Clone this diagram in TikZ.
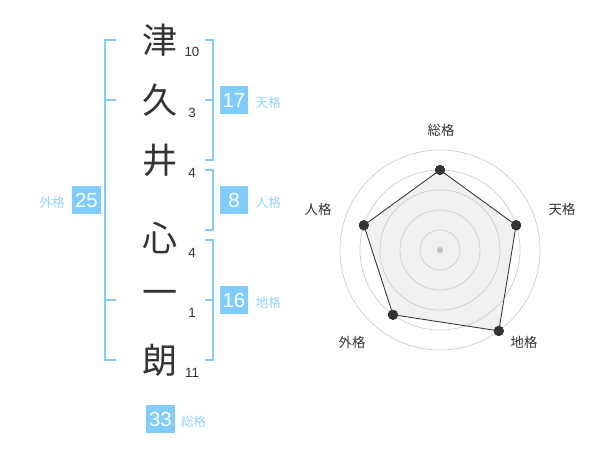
\documentclass[tikz,border=0pt]{standalone}
\usepackage{fontspec}
\setmainfont{Liberation Sans}
\newfontfamily\jp{Noto Sans CJK JP}
\usetikzlibrary{positioning,calc}
\definecolor{kakusky}{HTML}{80CCFF}
\definecolor{inkgray}{HTML}{333333}

\begin{document}
\begin{tikzpicture}
[x=0.025cm,y=-0.025cm,
kanji/.style = {font=\jp\fontsize{25}{25}\selectfont, text=inkgray, inner sep=0pt},
strokes/.style = {font=\fontsize{9.5}{10}\selectfont, text=inkgray, inner sep=0pt},
kakubox/.style = {fill=kakusky, text=white, minimum size=20pt, inner sep=0pt, font=\fontsize{14.5}{15}\selectfont},
kakulabel/.style = {text=kakusky!85, font=\jp\fontsize{9}{10}\selectfont, inner sep=0pt},
bracket/.style = {draw=kakusky, line width=1.4pt},
axislabel/.style = {text=inkgray, font=\jp\fontsize{9.5}{10}\selectfont, inner sep=0pt},
ring/.style = {draw=black!20, line width=0.5pt},
point/.style = {draw=inkgray, circle, fill=inkgray, inner sep=2.4pt},]
\useasboundingbox (0,0) rectangle (600,470);

% name and strokes
\node (K1) at (160,40) [kanji] {津};
\node (K2) at (160,100) [kanji] {久};
\node (K3) at (160,160) [kanji] {井};
\node (K4) at (160,238) [kanji] {心};
\node (K5) at (160,298) [kanji] {一};
\node (K6) at (160,360) [kanji] {朗};
\node (N1) at (192,52) [strokes] {10};
\node (N2) at (192,113) [strokes] {3};
\node (N3) at (192,173) [strokes] {4};
\node (N4) at (192,253) [strokes] {4};
\node (N5) at (192,313) [strokes] {1};
\node (N6) at (192,373) [strokes] {11};

% brackets
\draw[bracket] (116,40) -- (105,40) -- (105,360) -- (116,360);
\draw[bracket] (105,100) -- (116,100);
\draw[bracket] (105,300) -- (116,300);
\draw[bracket] (205,40) -- (213,40) -- (213,160) -- (205,160);
\draw[bracket] (205,100) -- (213,100);
\draw[bracket] (205,170) -- (213,170) -- (213,230) -- (205,230);
\draw[bracket] (205,240) -- (213,240) -- (213,360) -- (205,360);
\draw[bracket] (205,300) -- (213,300);

% scores
\node (ten) at (234,100) [kakubox] {17};
\node (jin) at (234,200) [kakubox] {8};
\node (chi) at (234,300) [kakubox] {16};
\node (gai) at (86.5,200) [kakubox] {25};
\node (sou) at (160.5,419) [kakubox] {33};
\node [kakulabel, base right=5pt of ten] {天格};
\node [kakulabel, base right=5pt of jin] {人格};
\node [kakulabel, base right=5pt of chi] {地格};
\node [kakulabel, base left=5pt of gai] {外格};
\node [kakulabel, base right=4pt of sou] {総格};

% radar
\begin{scope}[shift={(440,250)}, yscale=-1]
\node (RS) at (90:80) [point] {};
\node (RT) at (18:80) [point] {};
\node (RC) at (-54:100) [point] {};
\node (RG) at (-126:80) [point] {};
\node (RJ) at (162:80) [point] {};
\fill[black!6] (RS.center) -- (RT.center) -- (RC.center) -- (RG.center) -- (RJ.center) -- cycle;
\foreach \r in {20,40,60,80,100}
  \draw[ring] (0,0) circle (\r);
\fill[black!25] (0,0) circle (3);
\draw[inkgray, line width=0.6pt] (RS) -- (RT) -- (RC) -- (RG) -- (RJ) -- (RS);
\node (RS) at (90:80) [point] {};
\node (RT) at (18:80) [point] {};
\node (RC) at (-54:100) [point] {};
\node (RG) at (-126:80) [point] {};
\node (RJ) at (162:80) [point] {};
\end{scope}
\node at (441,130) [axislabel] {総格};
\node at (562,209) [axislabel] {天格};
\node at (524,342) [axislabel] {地格};
\node at (352,342) [axislabel] {外格};
\node at (318,209) [axislabel] {人格};
\end{tikzpicture}
\end{document}
